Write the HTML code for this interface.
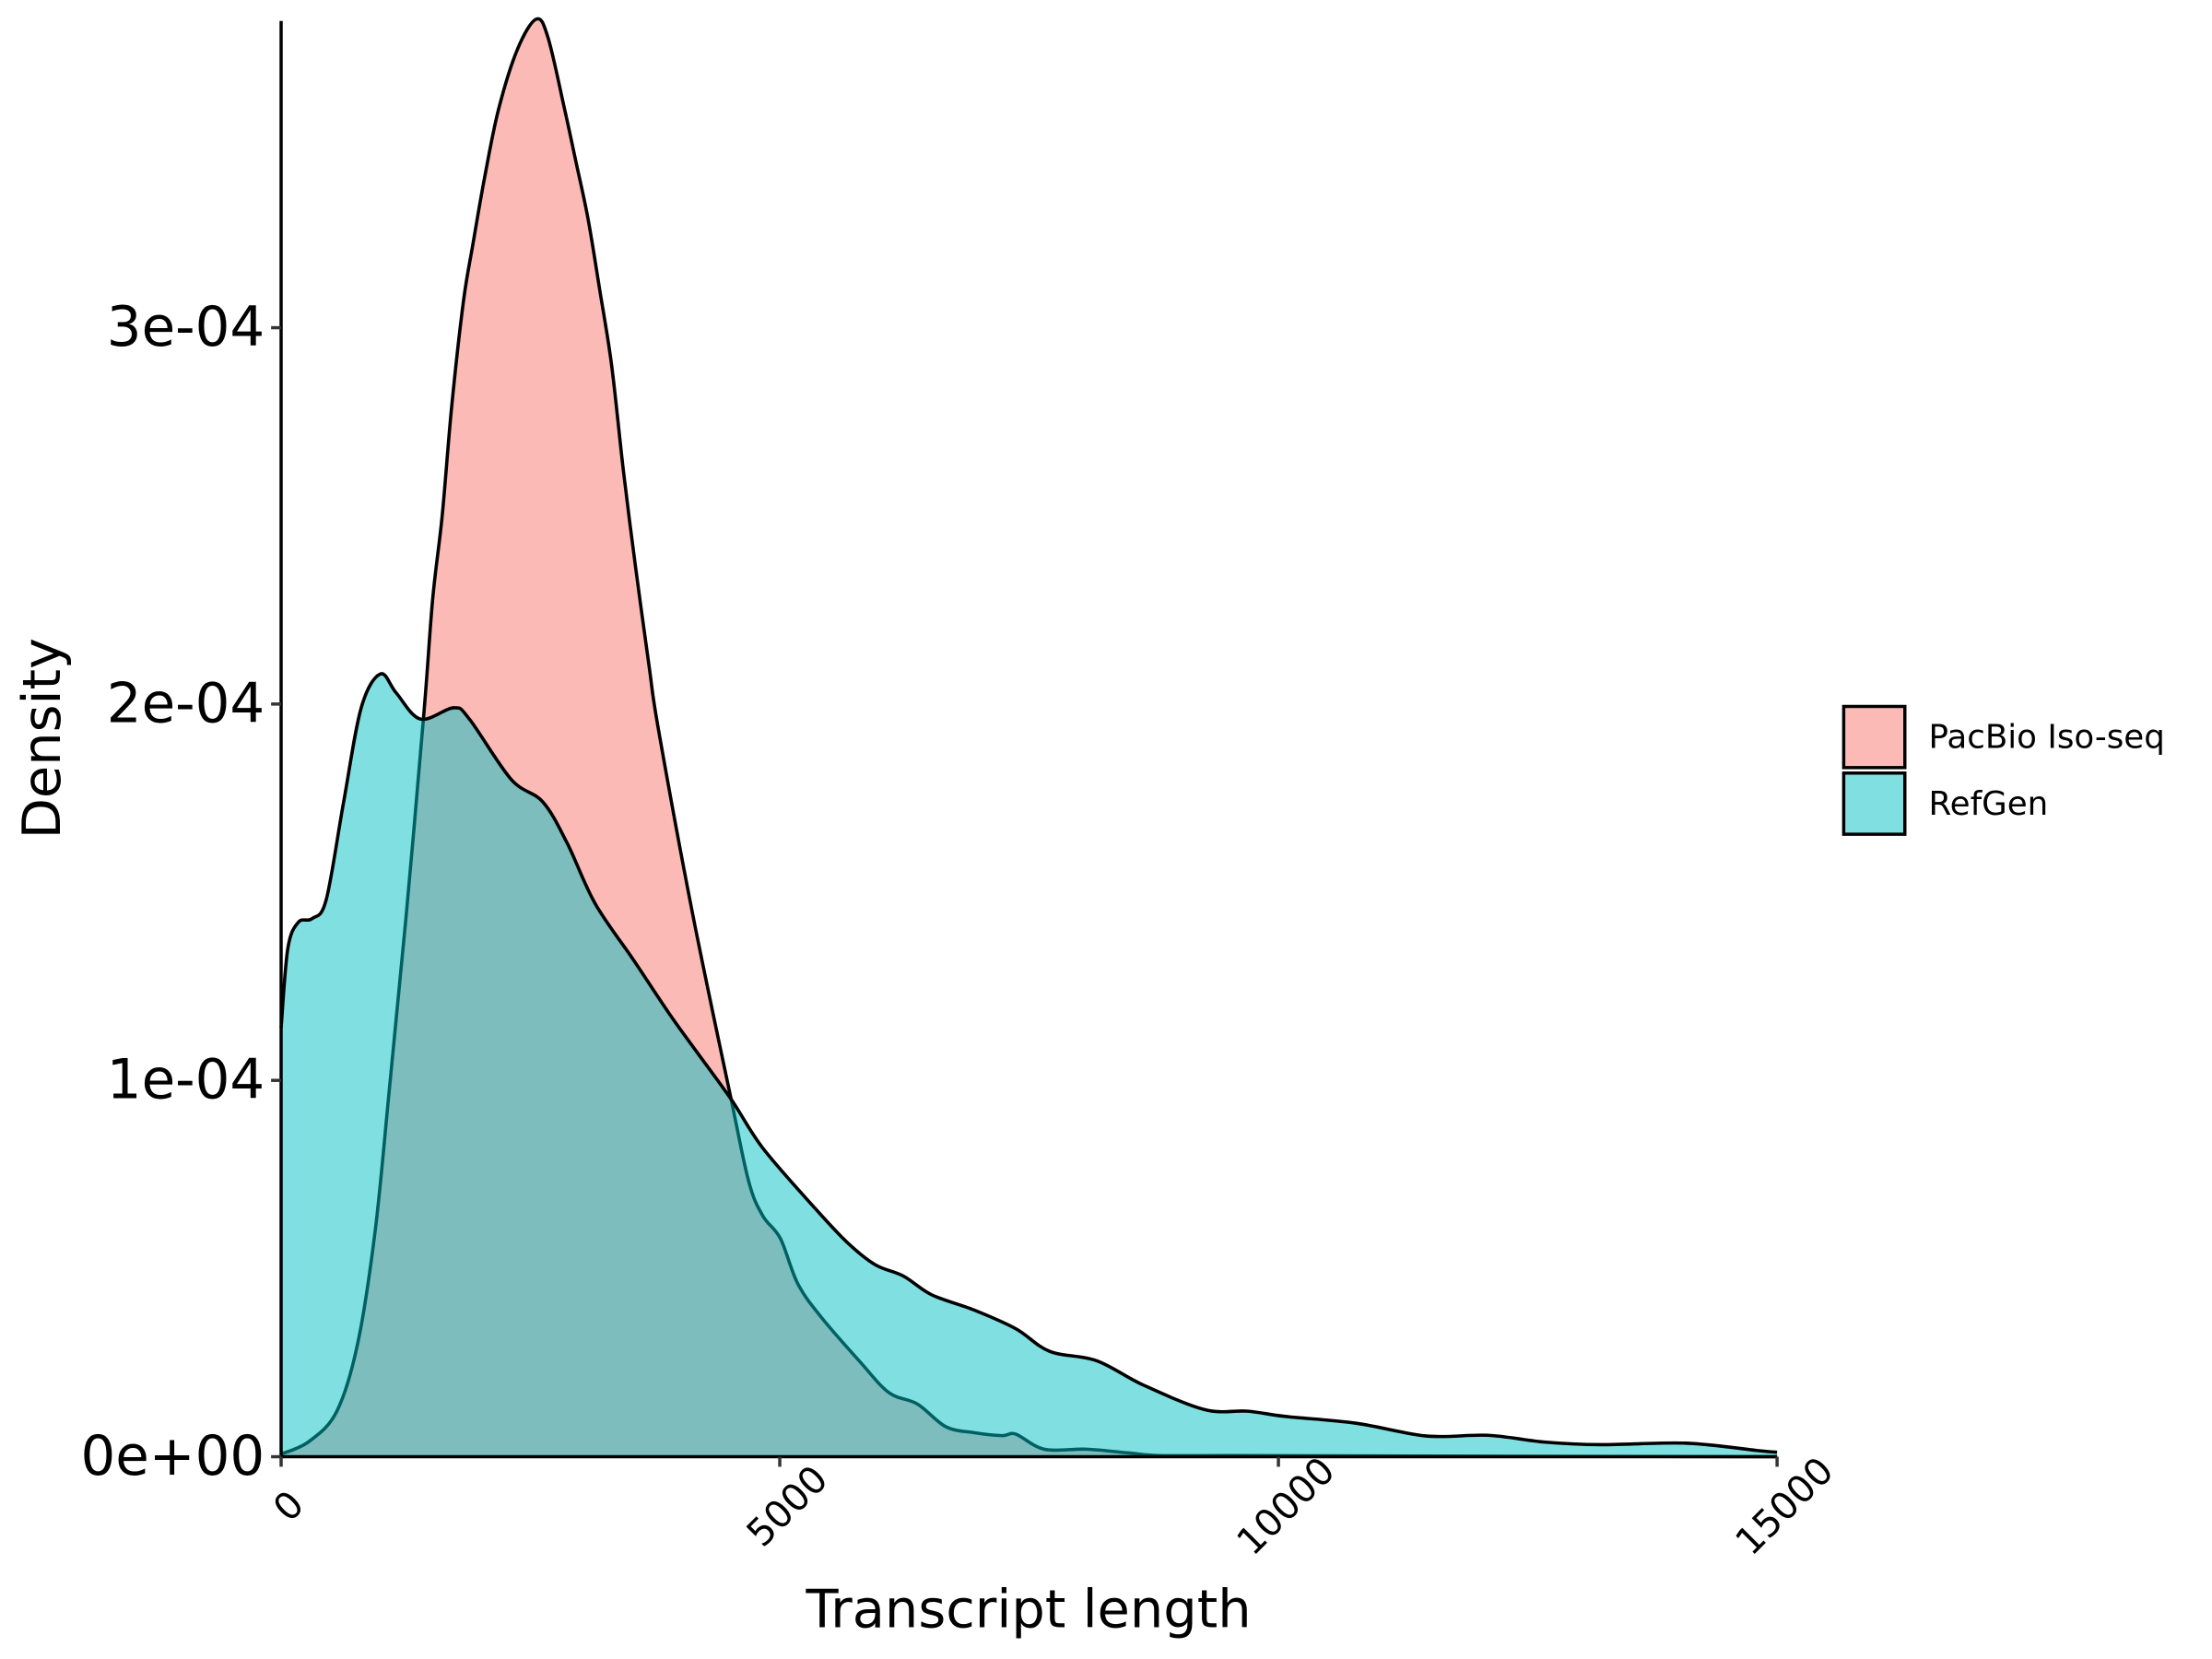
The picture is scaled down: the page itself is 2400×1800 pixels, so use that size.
<!DOCTYPE html>
<html><head><meta charset="utf-8">
<style>
html,body{margin:0;padding:0;background:#fff;}
svg{display:block;font-family:"DejaVu Sans","Liberation Sans",sans-serif;}
</style></head>
<body>
<svg id="chart" width="2400" height="1800" viewBox="0 0 2400 1800">
 <g transform="scale(0.9903)">
  <g id="marks"></g>
  <g id="axes"></g>
  <text x="46" y="809" font-size="58" text-anchor="middle" dominant-baseline="central" transform="rotate(-90 46 809)">Density</text>
  <text x="1127" y="1763" font-size="58" text-anchor="middle" dominant-baseline="central">Transcript length</text>
  <g>
    <rect x="2020" y="774" width="67" height="67" fill="#F8766D" fill-opacity="0.5" stroke="#000" stroke-width="3.5"/>
    <rect x="2020" y="847" width="67" height="67" fill="#00BFC4" fill-opacity="0.5" stroke="#000" stroke-width="3.5"/>
    <text x="2113" y="808" font-size="36" dominant-baseline="central">PacBio Iso-seq</text>
    <text x="2113" y="881" font-size="36" dominant-baseline="central">RefGen</text>
  </g>
 </g>
</svg>
<script>
// Data: x in bp, density in units of 1e-4
const pacbioX = [0,277,557,767,943,1083,1258,1433,1520,1615,1710,1828,1922,2041,2180,2370,2559,2677,2843,2957,3077,3195,3314,3432,3551,3690,3785,4128,4512,4690,4830,5006,5180,5418,5812,6096,6380,6663,6946,7230,7367,7651,8074,8502,8800,9500,11000,13000,15000];
const pacbioY = [0.007,0.04,0.12,0.30,0.60,0.97,1.45,1.98,2.28,2.50,2.79,3.07,3.22,3.40,3.58,3.74,3.82,3.77,3.58,3.44,3.29,3.10,2.90,2.62,2.37,2.10,1.93,1.44,0.95,0.73,0.64,0.58,0.46,0.37,0.25,0.17,0.14,0.08,0.064,0.056,0.06,0.02,0.02,0.01,0.003,0.003,0.002,0.001,0.0];
const refgenX = [0,67,172,311,452,627,803,995,1153,1397,1730,1888,2306,2624,2869,3148,3533,3885,4128,4512,4830,5354,5674,5958,6240,6525,6946,7367,7706,8178,8649,9263,9692,10070,10778,11486,12100,12667,13234,14085,14817,15000];
const refgenY = [1.14,1.35,1.42,1.43,1.48,1.74,1.99,2.08,2.03,1.96,1.99,1.96,1.80,1.74,1.63,1.47,1.32,1.18,1.09,0.95,0.82,0.66,0.57,0.51,0.48,0.43,0.39,0.34,0.28,0.255,0.19,0.125,0.121,0.107,0.089,0.055,0.057,0.039,0.032,0.036,0.016,0.012];
const xTicks = [0,5000,10000,15000];
const xTickLabels = ["0","5000","10000","15000"];
const yTicks = [0,1,2,3];
const yTickLabels = ["0e+00","1e-04","2e-04","3e-04"];

const X0=308, X1=1947, Y0=1596, YTOP=23;
const xMax=15000, yMax=3.815;
function sx(v){return X0+(v/xMax)*(X1-X0);}
function sy(v){return Y0-(v/yMax)*(Y0-YTOP);}
const NS="http://www.w3.org/2000/svg";

function smoothPath(xs,ys){
  const p=xs.map((x,i)=>[sx(x),sy(ys[i])]);
  let d="M"+p[0][0]+","+p[0][1];
  for(let i=0;i<p.length-1;i++){
    const p0=p[i-1]||p[i],p1=p[i],p2=p[i+1],p3=p[i+2]||p[i+1];
    const c1=[p1[0]+(p2[0]-p0[0])/6,p1[1]+(p2[1]-p0[1])/6];
    const c2=[p2[0]-(p3[0]-p1[0])/6,p2[1]-(p3[1]-p1[1])/6];
    c1[1]=Math.min(c1[1],Y0);c2[1]=Math.min(c2[1],Y0);
    d+=" C"+c1[0]+","+c1[1]+" "+c2[0]+","+c2[1]+" "+p2[0]+","+p2[1];
  }
  return d;
}
const marks=document.getElementById('marks');
function drawSeries(xs,ys,color,name){
  const line=smoothPath(xs,ys);
  const area=document.createElementNS(NS,'path');
  area.setAttribute('d',line+" L"+sx(xs[xs.length-1])+","+Y0+" L"+sx(xs[0])+","+Y0+" Z");
  area.setAttribute('fill',color);
  area.setAttribute('fill-opacity','0.5');
  
  
  marks.appendChild(area);
  const l=document.createElementNS(NS,'path');
  l.setAttribute('d',line);
  l.setAttribute('fill','none');
  l.setAttribute('stroke','#000');
  l.setAttribute('stroke-width','3.6');
  
  
  marks.appendChild(l);
}
drawSeries(pacbioX,pacbioY,'#F8766D','pacbio');
drawSeries(refgenX,refgenY,'#00BFC4','refgen');

const axes=document.getElementById('axes');
function add(tag,attrs,txt){
  const e=document.createElementNS(NS,tag);
  for(const k in attrs)e.setAttribute(k,attrs[k]);
  if(txt!==undefined)e.textContent=txt;
  axes.appendChild(e);return e;
}
const yl=add('line',{x1:X0,y1:YTOP,x2:X0,y2:Y0+2,stroke:'#000','stroke-width':3.5});


const xl=add('line',{x1:X0-2,y1:Y0,x2:X1,y2:Y0,stroke:'#000','stroke-width':3.5});


yTicks.forEach((v,i)=>{
  const t=add('line',{x1:X0-11,y1:sy(v),x2:X0,y2:sy(v),stroke:'#333','stroke-width':3.5});
  
  
  const lb=add('text',{x:X0-18,y:sy(v),'font-size':60,'text-anchor':'end','dominant-baseline':'central'},yTickLabels[i]);
  
  
});
xTicks.forEach((v,i)=>{
  const x=sx(v);
  const t=add('line',{x1:x,y1:Y0,x2:x,y2:Y0+11,stroke:'#333','stroke-width':3.5});
  
  
  const cx=x+8, cy=1650;
  const lb=add('text',{x:cx,y:cy,'font-size':41,'text-anchor':'middle','dominant-baseline':'central',transform:'rotate(-45 '+cx+' '+cy+')'},xTickLabels[i]);
  
  
});
</script>
</body></html>
